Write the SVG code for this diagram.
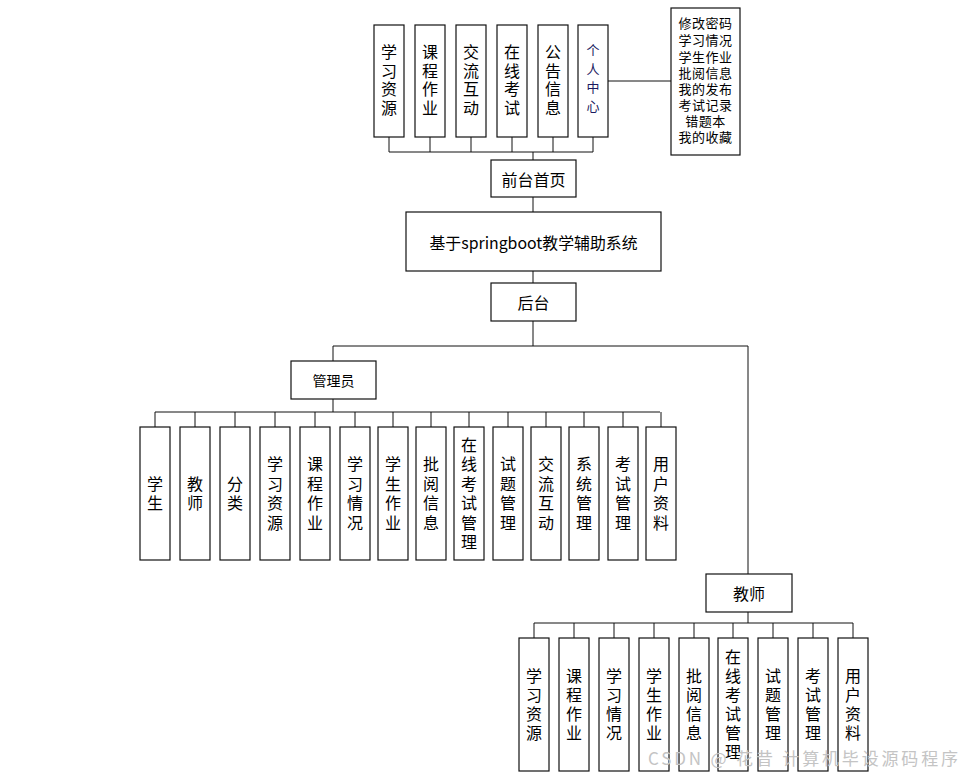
<svg xmlns="http://www.w3.org/2000/svg" width="962" height="776" viewBox="0 0 962 776">
<style>
.box{fill:#fff;stroke:#111;stroke-width:1.2}
.ln{stroke:#111;stroke-width:1;fill:none}
.t{font-family:"Noto Sans CJK SC","Liberation Sans",sans-serif;font-size:16px;text-anchor:middle;dominant-baseline:central;fill:#000}
.v{font-family:"Noto Sans CJK SC","Liberation Sans",sans-serif;font-size:16px;text-anchor:middle;writing-mode:tb;glyph-orientation-vertical:0;fill:#000}
.top{letter-spacing:2.5px}
.adm{letter-spacing:3.5px}
.tch{letter-spacing:3px}
.s{font-size:13px}
.lst{font-family:"Liberation Sans","Noto Sans CJK SC",sans-serif;font-size:13px;text-anchor:middle;dominant-baseline:central;fill:#000;letter-spacing:0.5px}
.wm{font-family:"Noto Sans CJK SC","Liberation Sans",sans-serif;font-size:17px;fill:#c4c4c4}
</style>
<rect width="962" height="776" fill="#fff"/>
<g id="connectors">
<path class="ln" d="M389 137V152M430 137V152M471 137V152M512 137V152M553 137V152M593 137V152M389 152H593M533 152V160"/>
<path class="ln" d="M608 81H671"/>
<path class="ln" d="M533 197V212M533 271V283M533 321V346M333 346H748M333 346V361M748 346V574"/>
<path class="ln" d="M333 399V412M155 412H660M155 412V427M195 412V427M235 412V427M275 412V427M315 412V427M355 412V427M393 412V427M431 412V427M469 412V427M508 412V427M546 412V427M584 412V427M623 412V427M661 412V427"/>
<path class="ln" d="M748 612V623M534 623H853M534 623V638M574 623V638M614 623V638M654 623V638M694 623V638M733 623V638M773 623V638M813 623V638M853 623V638"/>
</g>
<g id="n_xxzy"><rect class="box" x="374" y="25" width="30" height="112"/><text class="v top" x="389" y="81">学习资源</text></g>
<g id="n_kczy"><rect class="box" x="415" y="25" width="30" height="112"/><text class="v top" x="430" y="81">课程作业</text></g>
<g id="n_jlhd"><rect class="box" x="456" y="25" width="30" height="112"/><text class="v top" x="471" y="81">交流互动</text></g>
<g id="n_zxks"><rect class="box" x="497" y="25" width="30" height="112"/><text class="v top" x="512" y="81">在线考试</text></g>
<g id="n_ggxx"><rect class="box" x="538" y="25" width="30" height="112"/><text class="v top" x="553" y="81">公告信息</text></g>
<g id="n_grzx"><rect class="box" x="578" y="25" width="30" height="112"/><text class="v" x="593" y="81" style="font-size:13px;letter-spacing:5.5px;fill:#1a1a60">个人中心</text></g>
<g id="n_grzx_list"><rect class="box" x="671" y="8" width="69" height="147"/><text class="lst"><tspan x="705.5" y="23">修改密码</tspan><tspan x="705.5" y="40">学习情况</tspan><tspan x="705.5" y="57">学生作业</tspan><tspan x="705.5" y="73">批阅信息</tspan><tspan x="705.5" y="89">我的发布</tspan><tspan x="705.5" y="105">考试记录</tspan><tspan x="705.5" y="121">错题本</tspan><tspan x="705.5" y="137">我的收藏</tspan></text></g>
<g id="n_qtsy"><rect class="box" x="491" y="160" width="85" height="37"/><text class="t" x="533.5" y="178.5">前台首页</text></g>
<g id="n_sys"><rect class="box" x="406" y="212" width="255" height="59"/><text class="t" x="533.5" y="242" textLength="208" lengthAdjust="spacingAndGlyphs">基于springboot教学辅助系统</text></g>
<g id="n_ht"><rect class="box" x="491" y="283" width="85" height="38"/><text class="t" x="533.5" y="302">后台</text></g>
<g id="n_admin"><rect class="box" x="291" y="361" width="85" height="38"/><text class="t" x="333.5" y="380" style="font-size:14px">管理员</text></g>
<g id="a_xs"><rect class="box" x="140" y="427" width="30" height="133"/><text class="v adm" x="155" y="495">学生</text></g>
<g id="a_js"><rect class="box" x="180" y="427" width="30" height="133"/><text class="v adm" x="195" y="495">教师</text></g>
<g id="a_fl"><rect class="box" x="220" y="427" width="30" height="133"/><text class="v adm" x="235" y="495">分类</text></g>
<g id="a_xxzy"><rect class="box" x="260" y="427" width="30" height="133"/><text class="v adm" x="275" y="495">学习资源</text></g>
<g id="a_kczy"><rect class="box" x="300" y="427" width="30" height="133"/><text class="v adm" x="315" y="495">课程作业</text></g>
<g id="a_xxqk"><rect class="box" x="340" y="427" width="30" height="133"/><text class="v adm" x="355" y="495">学习情况</text></g>
<g id="a_xszy"><rect class="box" x="378" y="427" width="30" height="133"/><text class="v adm" x="393" y="495">学生作业</text></g>
<g id="a_pyxx"><rect class="box" x="416" y="427" width="30" height="133"/><text class="v adm" x="431" y="495">批阅信息</text></g>
<g id="a_zxksgl"><rect class="box" x="454" y="427" width="30" height="133"/><text class="v adm" x="469" y="495">在线考试管理</text></g>
<g id="a_stgl"><rect class="box" x="493" y="427" width="30" height="133"/><text class="v adm" x="508" y="495">试题管理</text></g>
<g id="a_jlhd"><rect class="box" x="531" y="427" width="30" height="133"/><text class="v adm" x="546" y="495">交流互动</text></g>
<g id="a_xtgl"><rect class="box" x="569" y="427" width="30" height="133"/><text class="v adm" x="584" y="495">系统管理</text></g>
<g id="a_ksgl"><rect class="box" x="608" y="427" width="30" height="133"/><text class="v adm" x="623" y="495">考试管理</text></g>
<g id="a_yhzl"><rect class="box" x="646" y="427" width="30" height="133"/><text class="v adm" x="661" y="495">用户资料</text></g>
<g id="n_teacher"><rect class="box" x="706" y="574" width="86" height="38"/><text class="t" x="749" y="593">教师</text></g>
<g id="t_xxzy"><rect class="box" x="519" y="638" width="30" height="133"/><text class="v tch" x="534" y="706">学习资源</text></g>
<g id="t_kczy"><rect class="box" x="559" y="638" width="30" height="133"/><text class="v tch" x="574" y="706">课程作业</text></g>
<g id="t_xxqk"><rect class="box" x="599" y="638" width="30" height="133"/><text class="v tch" x="614" y="706">学习情况</text></g>
<g id="t_xszy"><rect class="box" x="639" y="638" width="30" height="133"/><text class="v tch" x="654" y="706">学生作业</text></g>
<g id="t_pyxx"><rect class="box" x="679" y="638" width="30" height="133"/><text class="v tch" x="694" y="706">批阅信息</text></g>
<g id="t_zxksgl"><rect class="box" x="718" y="638" width="30" height="133"/><text class="v tch" x="733" y="706">在线考试管理</text></g>
<g id="t_stgl"><rect class="box" x="758" y="638" width="30" height="133"/><text class="v tch" x="773" y="706">试题管理</text></g>
<g id="t_ksgl"><rect class="box" x="798" y="638" width="30" height="133"/><text class="v tch" x="813" y="706">考试管理</text></g>
<g id="t_yhzl"><rect class="box" x="838" y="638" width="30" height="133"/><text class="v tch" x="853" y="706">用户资料</text></g>
<text class="wm" x="648" y="765" textLength="310">CSDN @ 花昔 计算机毕设源码程序</text>
</svg>
